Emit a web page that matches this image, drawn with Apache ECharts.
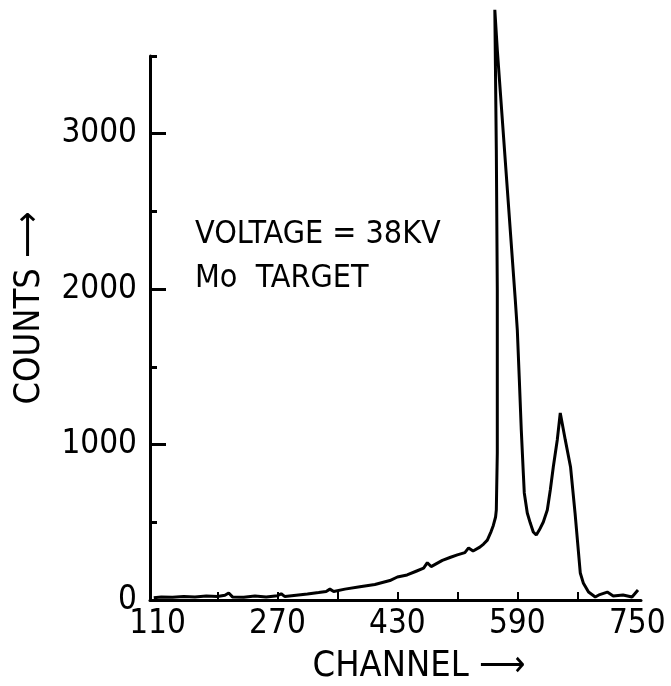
<!DOCTYPE html>
<html>
<head>
<meta charset="utf-8">
<script src="https://cdn.jsdelivr.net/npm/echarts@6/dist/echarts.min.js"></script>
<style>
  html, body { margin: 0; padding: 0; background: #fff; }
  #chart { width: 671px; height: 686px; }
</style>
</head>
<body>
<div id="chart"></div>
<script>
// channel positions and counts
const channels = [
  105, 115, 130, 145, 160, 175, 190, 200, 205, 210, 225, 240, 255, 270, 275, 280,
  295, 310, 325, 335, 340, 345, 360, 380, 400, 420, 430, 443, 455, 465, 470, 475,
  490, 501, 510, 520, 525, 531, 540, 545, 550, 555, 558, 561, 562, 563.3, 563.3, 562, 560,
  563.3, 587.3, 590, 592.7, 595.3, 598, 599.3, 603.3, 607.3, 611.3, 615.3, 619.3, 624.7,
  630, 634, 638, 643.3, 647.3, 654, 661, 667, 674, 678, 685, 694, 700, 710, 718, 731, 743, 751
];
const counts = [
  15, 20, 18, 22, 20, 25, 22, 30, 45, 20, 18, 25, 20, 28, 40, 22,
  30, 38, 48, 55, 70, 55, 70, 85, 100, 125, 148, 161, 185, 205, 240, 215,
  255, 275, 290, 305, 335, 315, 340, 360, 385, 440, 480, 534, 580, 946, 1995, 2896, 3797,
  3539, 1931, 1737, 1416, 1094, 817, 689, 560, 495, 438, 418, 450, 502,
  579, 708, 856, 1030, 1203, 1030, 856, 560, 174, 110, 51, 19, 35, 51, 26, 32, 19, 64
];
const xLabels = [110, 270, 430, 590, 750];
const xTicks = [190, 270, 350, 430, 510, 590, 670];
const yLabels = [0, 1000, 2000, 3000];
const yMajorTicks = [1000, 2000, 3000];
const yMinorTicks = [500, 1500, 2500, 3500];

const points = channels.map((c, i) => [c, counts[i]]);
const font = '"DejaVu Sans Condensed", "DejaVu Sans", sans-serif';

const chart = echarts.init(document.getElementById('chart'));
chart.setOption({
  animation: false,
  backgroundColor: '#fff',
  grid: { left: 150, right: 30, top: 56, bottom: 86 },
  xAxis: {
    type: 'value',
    min: 100,
    max: 755,
    splitLine: { show: false },
    axisLine: { lineStyle: { color: '#000', width: 3 } },
    axisTick: { inside: true, length: 8, customValues: xTicks, lineStyle: { color: '#000', width: 2 } },
    axisLabel: {
      customValues: xLabels,
      formatter: v => String(v),
      color: '#000', fontFamily: font, fontSize: 33, margin: 8
    }
  },
  yAxis: [
    {
      type: 'value',
      min: 0,
      max: 3500,
      splitLine: { show: false },
      axisLine: { show: true, lineStyle: { color: '#000', width: 3 } },
      axisTick: { inside: true, length: 16, customValues: yMajorTicks, lineStyle: { color: '#000', width: 3 } },
      axisLabel: {
        customValues: yLabels,
        formatter: v => String(v),
        color: '#000', fontFamily: font, fontSize: 33, margin: 13
      }
    },
    {
      type: 'value',
      position: 'left',
      min: 0,
      max: 3500,
      splitLine: { show: false },
      axisLine: { show: false },
      axisTick: { show: true, inside: true, length: 7, customValues: yMinorTicks, lineStyle: { color: '#000', width: 3 } },
      axisLabel: { show: false }
    }
  ],
  series: [{
    type: 'line',
    data: points,
    yAxisIndex: 0,
    showSymbol: false,
    clip: false,
    lineStyle: { color: '#000', width: 3 }
  }],
  graphic: [
    {
      type: 'text', left: 195, top: 219,
      style: { text: 'VOLTAGE = 38KV', font: '32px ' + font, fill: '#000' }
    },
    {
      type: 'text', left: 195, top: 263,
      style: { text: 'Mo  TARGET', font: '32px ' + font, fill: '#000' }
    },
    {
      type: 'text', x: 30, y: 308, rotation: Math.PI / 2,
      style: { text: 'COUNTS ⟶', font: '36px ' + font, fill: '#000', align: 'center', verticalAlign: 'middle' }
    },
    {
      type: 'text', x: 419, y: 667,
      style: { text: 'CHANNEL ⟶', font: '36px ' + font, fill: '#000', align: 'center', verticalAlign: 'middle' }
    }
  ]
});
</script>
</body>
</html>
